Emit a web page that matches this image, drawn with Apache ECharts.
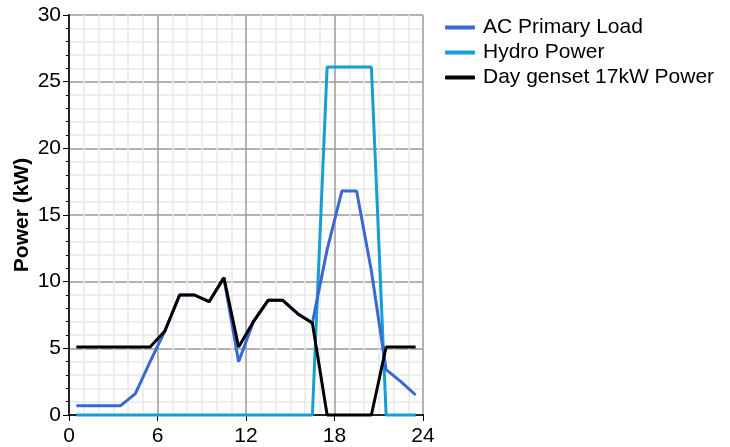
<!DOCTYPE html>
<html>
<head>
<meta charset="utf-8">
<script src="https://cdn.jsdelivr.net/npm/echarts@6/dist/echarts.min.js"></script>
<style>html,body{margin:0;padding:0;background:#fff}#c{width:730px;height:447px}</style>
</head>
<body>
<div id="c"></div>
<script>
const hours = [0.5,1.5,2.5,3.5,4.5,5.5,6.5,7.5,8.5,9.5,10.5,11.5,12.5,13.5,14.5,15.5,16.5,17.5,18.5,19.5,20.5,21.5,22.5,23.5];
const acPrimaryLoad = [0.7,0.7,0.7,0.7,1.6,4.0,6.3,9.0,9.0,8.5,10.3,4.0,7.0,8.6,8.6,7.6,6.9,12.4,16.8,16.8,10.8,3.4,2.5,1.5];
const hydroPower = [0,0,0,0,0,0,0,0,0,0,0,0,0,0,0,0,0,26.1,26.1,26.1,26.1,0,0,0];
const gensetPower = [5.1,5.1,5.1,5.1,5.1,5.1,6.3,9.0,9.0,8.5,10.3,5.1,7.0,8.6,8.6,7.6,6.9,0,0,0,0,5.1,5.1,5.1];
const xTicks = [0,6,12,18,24];
const yTicks = [0,5,10,15,20,25,30];
const seriesNames = ['AC Primary Load','Hydro Power','Day genset 17kW Power'];

const pair = (xs, ys) => xs.map((x, i) => [x, ys[i]]);
const FONT = '"Liberation Sans", Arial, sans-serif';
const chart = echarts.init(document.getElementById('c'));
chart.setOption({
  animation: false,
  backgroundColor: '#fff',
  grid: {left: 69, right: 307, top: 15, bottom: 32, containLabel: false},
  legend: {
    orient: 'vertical', left: 440, top: 12, itemGap: 4,
    itemWidth: 30, itemHeight: 4, icon: 'roundRect',
    data: seriesNames,
    textStyle: {fontFamily: FONT, fontSize: 21, color: '#000', padding: [0,0,0,3]}
  },
  xAxis: [{
    type: 'value', min: xTicks[0], max: xTicks[xTicks.length-1], interval: 6,
    axisLine: {show: true, onZero: false, lineStyle: {color: '#000', width: 2}},
    axisTick: {show: true, length: 6, lineStyle: {color: '#000', width: 1}},
    minorTick: {show: false, splitNumber: 6},
    axisLabel: {fontFamily: FONT, fontSize: 21, color: '#000', margin: 11},
    splitLine: {show: true, lineStyle: {color: '#9a9a9a', width: 1.5}},
    minorSplitLine: {show: true, lineStyle: {color: '#e9e9e9', width: 1.5}}
  }, {
    type: 'value', position: 'top', min: 0, max: 24,
    axisLine: {show: true, lineStyle: {color: '#333', width: 1.5}},
    axisTick: {show: false}, axisLabel: {show: false}, splitLine: {show: false}
  }],
  yAxis: [{
    type: 'value', min: yTicks[0], max: yTicks[yTicks.length-1], interval: 5,
    name: 'Power (kW)', nameLocation: 'middle', nameGap: 36, nameRotate: 90,
    nameTextStyle: {fontFamily: FONT, fontSize: 21, fontWeight: 'bold', color: '#000'},
    axisLine: {show: true, onZero: false, lineStyle: {color: '#000', width: 2}},
    axisTick: {show: true, length: 6, lineStyle: {color: '#000', width: 1}},
    minorTick: {show: true, splitNumber: 5, length: 3, lineStyle: {color: '#000', width: 1}},
    axisLabel: {fontFamily: FONT, fontSize: 21, color: '#000', margin: 8},
    splitLine: {show: true, lineStyle: {color: '#9a9a9a', width: 1.5}},
    minorSplitLine: {show: true, lineStyle: {color: '#e9e9e9', width: 1.5}}
  }, {
    type: 'value', position: 'right', min: 0, max: 30,
    axisLine: {show: true, lineStyle: {color: '#333', width: 1.5}},
    axisTick: {show: false}, axisLabel: {show: false}, splitLine: {show: false}
  }],
  series: [{
    name: seriesNames[0], type: 'line', data: pair(hours, acPrimaryLoad),
    showSymbol: false, clip: false, z: 3,
    itemStyle: {color: '#3a66d6'}, lineStyle: {color: '#3a66d6', width: 3}
  }, {
    name: seriesNames[1], type: 'line', data: pair(hours, hydroPower),
    showSymbol: false, clip: false, z: 2,
    itemStyle: {color: '#149fd2'}, lineStyle: {color: '#149fd2', width: 3}
  }, {
    name: seriesNames[2], type: 'line', data: pair(hours, gensetPower),
    showSymbol: false, clip: false, z: 4,
    itemStyle: {color: '#000'}, lineStyle: {color: '#000', width: 3}
  }]
});
</script>
</body>
</html>
